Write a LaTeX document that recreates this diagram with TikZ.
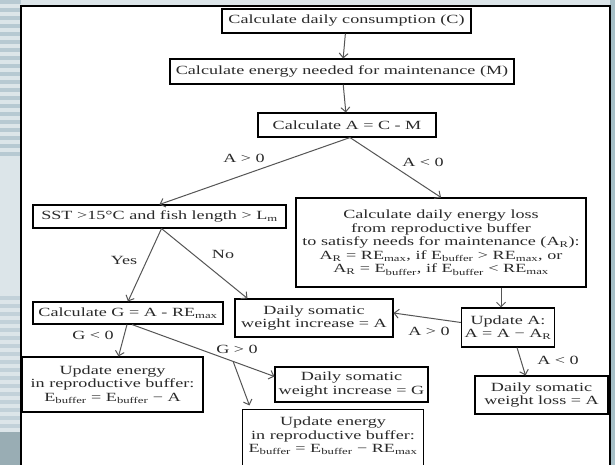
\documentclass[tikz,border=0pt]{standalone}
\usepackage{fontspec}
\setmainfont{Liberation Serif}[FakeStretch=1.45]
\usetikzlibrary{arrows.meta}
\definecolor{bgc}{HTML}{DCE5E9}
\definecolor{stripec}{HTML}{B7C9D2}
\definecolor{edgec}{HTML}{A7C0C8}
\definecolor{arrc}{HTML}{555555}
\definecolor{txtc}{HTML}{2A2A2A}
\tikzset{
  box/.style={draw=black, line width=1.1pt, fill=white, inner sep=0pt, align=center,
    text=txtc, font=\fontsize{12.5}{13.6}\selectfont},
  lbl/.style={inner sep=0pt, text=txtc, font=\fontsize{12.5}{13.6}\selectfont},
  conn/.style={draw=arrc, line width=1pt, -{Straight Barb[length=4.5pt,width=9pt,line width=1pt]}},
  plain/.style={draw=arrc, line width=1pt}
}
\newcommand{\sub}[1]{\textsubscript{#1}}
\begin{document}
\begin{tikzpicture}[x=1pt,y=-1pt]
\useasboundingbox (0,0) rectangle (615,465);
% background
\fill[bgc] (0,0) rectangle (615,465);
\foreach \i in {0,...,19} {\fill[stripec] (0,{\i*8}) rectangle (21,{\i*8+4});}
\foreach \i in {37,...,58} {\fill[stripec!70!bgc] (0,{\i*8}) rectangle (21,{\i*8+4});}
\fill[edgec!80!black!60!stripec] (0,432) rectangle (21,465);
\fill[edgec] (610,0) rectangle (615,465);
% panel
\draw[black, line width=1.5pt, fill=white] (21,6) rectangle (610,475);

% boxes
\node[box, minimum width=249pt, minimum height=24pt] (C) at (346.5,21) {Calculate daily consumption (C)};
\node[box, minimum width=344pt, minimum height=25pt] (M) at (342,71.5) {Calculate energy needed for maintenance (M)};
\node[box, minimum width=178pt, minimum height=24pt] (A) at (347,125) {Calculate A = C - M};
\node[box, minimum width=253pt, minimum height=23pt] (SST) at (159.5,216.5) {SST >15°C and fish length > L\sub{m}};
\node[box, minimum width=290pt, minimum height=89pt] (RE) at (441,242.5) {Calculate daily energy loss\\from reproductive buffer\\to satisfy needs for maintenance (A\sub{R}):\\A\sub{R} = RE\sub{max}, if E\sub{buffer} > RE\sub{max}, or\\A\sub{R} = E\sub{buffer}, if E\sub{buffer} < RE\sub{max}};
\node[box, minimum width=190pt, minimum height=22pt] (CG) at (128,313) {Calculate G = A - RE\sub{max}};
\node[box, minimum width=158pt, minimum height=38pt] (DA) at (314,318) {Daily somatic\\weight increase = A};
\node[box, minimum width=93pt, minimum height=39pt] (UA) at (508,327.5) {Update A:\\A = A − A\sub{R}};
\node[box, minimum width=133pt, minimum height=38pt] (DL) at (541.5,395) {Daily somatic\\weight loss = A};
\node[box, minimum width=181pt, minimum height=55pt] (UE1) at (112.5,384.5) {Update energy\\in reproductive buffer:\\E\sub{buffer} = E\sub{buffer} − A};
\node[box, minimum width=153pt, minimum height=35pt] (DG) at (351.5,384.5) {Daily somatic\\weight increase = G};
\node[box, draw=none, minimum width=180pt, minimum height=52pt] (UE2) at (333,436) {Update energy\\in reproductive buffer:\\E\sub{buffer} = E\sub{buffer} − RE\sub{max}};
\draw[black, line width=1.1pt] ([yshift=-20pt]UE2.south west) -- (UE2.north west) -- (UE2.north east) -- ([yshift=-20pt]UE2.south east);

% connectors
\draw[conn] (C) -- (M);
\draw[conn] (M) -- (A);
\draw[conn] ([xshift=3pt]A.south) -- (SST.north);
\draw[conn] ([xshift=3pt]A.south) -- (RE.north);
\draw[conn] ([xshift=2pt]SST.south) -- (CG.north);
\draw[conn] ([xshift=2pt]SST.south) -- ([xshift=13pt]DA.north west);
\draw[conn] ([xshift=-1pt]CG.south) -- ([xshift=6pt]UE1.north);
\draw[conn] ([xshift=4pt]CG.south) -- coordinate[pos=0.71] (br) ([yshift=8pt]DG.west);
\draw[conn] (br) -- ([xshift=7pt,yshift=4pt]UE2.north west);
\draw[conn] ([xshift=-7pt]UA.north |- RE.south) -- ([xshift=-7pt]UA.north);
\draw[conn] ([yshift=5pt]UA.west) -- ([yshift=5pt]DA.east);
\draw[conn] ([xshift=9pt]UA.south) -- ([xshift=-16pt]DL.north);

% labels
\node[lbl] (l1) at (244,158) {A > 0};
\node[lbl] (l2) at (423,162) {A < 0};
\node[lbl] (l3) at (124,260) {Yes};
\node[lbl] (l4) at (223,254) {No};
\node[lbl] (l5) at (93,335) {G < 0};
\node[lbl] (l6) at (237,349) {G > 0};
\node[lbl] (l7) at (429,331) {A > 0};
\node[lbl] (l8) at (558,360) {A < 0};
\end{tikzpicture}
\end{document}
